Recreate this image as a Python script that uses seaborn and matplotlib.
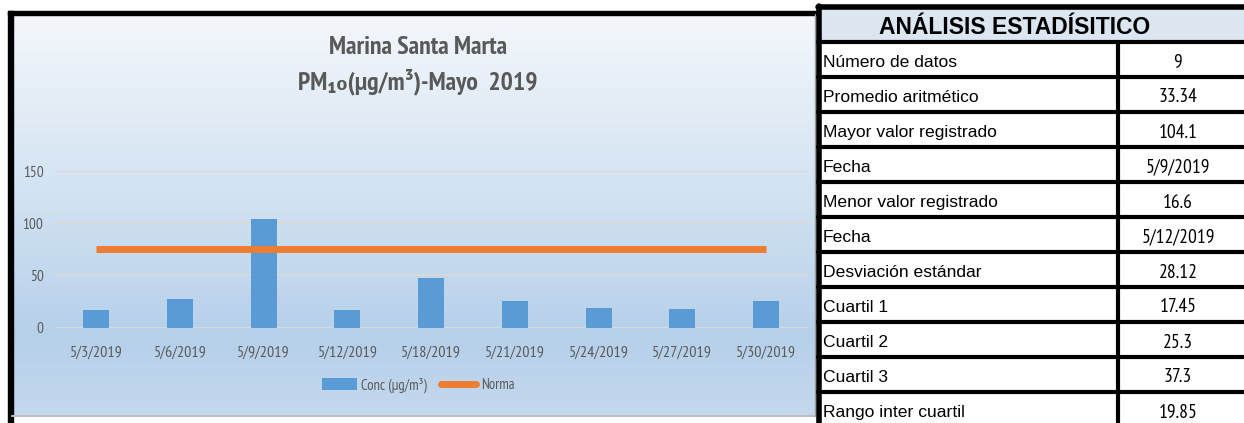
import numpy as np
import matplotlib.pyplot as plt
import matplotlib.colors as mcolors
from matplotlib.patches import Rectangle, Patch
from matplotlib.lines import Line2D
import seaborn as sns

# datos de la gráfica
fechas = ['5/3/2019', '5/6/2019', '5/9/2019', '5/12/2019', '5/18/2019',
          '5/21/2019', '5/24/2019', '5/27/2019', '5/30/2019']
conc = [17.2, 27.0, 104.1, 16.6, 47.6, 25.3, 19.0, 17.7, 25.6]
norma = [75, 75, 75, 75, 75, 75, 75, 75, 75]

# tabla de análisis estadístico
etiquetas = ['Número de datos', 'Promedio aritmético', 'Mayor valor registrado',
             'Fecha', 'Menor valor registrado', 'Fecha', 'Desviación estándar',
             'Cuartil 1', 'Cuartil 2', 'Cuartil 3', 'Rango inter cuartil']
valores = ['9', '33.34', '104.1', '5/9/2019', '16.6', '5/12/2019', '28.12',
           '17.45', '25.3', '37.3', '19.85']

sns.set_style('white')
narrow = ['PT Sans Narrow', 'DejaVu Sans']
regular = ['Liberation Sans', 'DejaVu Sans']
plt.rcParams['font.family'] = narrow

W, H = 1244, 423
fig = plt.figure(figsize=(W / 100, H / 100), dpi=100)
fig.patch.set_facecolor('white')

# capa de fondo en coordenadas de pixel
bg = fig.add_axes([0, 0, 1, 1])
bg.set_xlim(0, W)
bg.set_ylim(H, 0)
bg.axis('off')

# degradado del panel de la gráfica
cmap = mcolors.LinearSegmentedColormap.from_list(
    'grad', [(0, '#f4f7fb'), (0.4, '#d6e5f3'), (0.8, '#b6d0ea'), (1, '#c3d8ed')])
grad = np.linspace(0, 1, 256).reshape(-1, 1)
bg.imshow(grad, cmap=cmap, aspect='auto', extent=(12, 815, 416, 14), zorder=0)
bg.add_patch(Rectangle((8, 11), 5, 412, color='black', zorder=2))
bg.add_patch(Rectangle((8, 11), 808, 4, color='black', zorder=2))
bg.plot([12, 815], [416.5, 416.5], color='#bfbfbf', lw=1.5, zorder=2)
bg.plot([815, 815], [14, 416], color='#9a9a9a', lw=1, zorder=2)

bg.text(418, 48, 'Marina Santa Marta', ha='center', va='center',
        fontsize=18.5, fontweight='bold', color='#595959')
bg.text(418, 82, 'PM₁₀(µg/m³)-Mayo  2019', ha='center', va='center',
        fontsize=18.5, fontweight='bold', color='#595959')

# tabla
x0, xm, x1 = 818, 1118, 1246
bg.add_patch(Rectangle((x0, 8), x1 - x0, 34, facecolor='#dce6f1',
                       edgecolor='none', zorder=1))
bg.text(1015, 27, 'ANÁLISIS ESTADÍSITICO', ha='center', va='center',
        fontsize=16.5, fontweight='bold', family=regular, color='black')
top_rows = 42
row_h = 35
for i, (lab, val) in enumerate(zip(etiquetas, valores)):
    yc = top_rows + row_h * i + row_h / 2 + 3
    bg.text(x0 + 5, yc, lab, ha='left', va='center', fontsize=12.6,
            family=regular, color='black')
    bg.text((xm + x1) / 2 - 4, yc, val, ha='center', va='center',
            fontsize=14, family=narrow, color='black')
for i in range(len(etiquetas) + 1):
    y = top_rows + row_h * i
    bg.plot([x0, x1], [y, y], color='black', lw=3, zorder=3)
bg.plot([x0, x1], [7, 7], color='black', lw=4, zorder=3)
bg.plot([x0 + 1, x0 + 1], [6, H], color='black', lw=4, zorder=3)
bg.plot([xm, xm], [top_rows, H], color='black', lw=3, zorder=3)

# gráfica de barras
ax = fig.add_axes([56 / W, (H - 327.7) / H, (808 - 56) / W, (327.7 - 171) / H])
ax.patch.set_alpha(0)
sns.barplot(x=fechas, y=conc, color='#5b9bd5', width=0.31, saturation=1,
            linewidth=0, ax=ax, zorder=3)
ax.plot(np.arange(len(fechas)), norma, color='#ed7d31', lw=5,
        solid_capstyle='butt', zorder=4)
ax.set_ylim(0, 150)
ax.set_xlim(-0.48, len(fechas) - 0.5)
ax.set_yticks([0, 50, 100, 150])
ax.yaxis.grid(True, color='#d9d9d9', lw=1.5, zorder=1)
ax.set_axisbelow(True)
for s in ax.spines.values():
    s.set_visible(False)
ax.tick_params(axis='y', length=0, pad=9, labelsize=11, labelcolor='#595959')
ax.tick_params(axis='x', length=0, pad=13, labelsize=11.5, labelcolor='#595959')
ax.set_xlabel('')
ax.set_ylabel('')

handles = [Patch(facecolor='#5b9bd5', edgecolor='none'),
           Line2D([0], [0], color='#ed7d31', lw=5)]
fig.legend(handles, ['Conc (µg/m³)', 'Norma'], loc='center',
           bbox_to_anchor=(418 / W, (H - 385) / H), ncol=2, frameon=False,
           fontsize=10.5, handlelength=2.4, handleheight=0.9,
           columnspacing=1.0, handletextpad=0.3, labelcolor='#595959')

fig.savefig('out.png', dpi=100)
